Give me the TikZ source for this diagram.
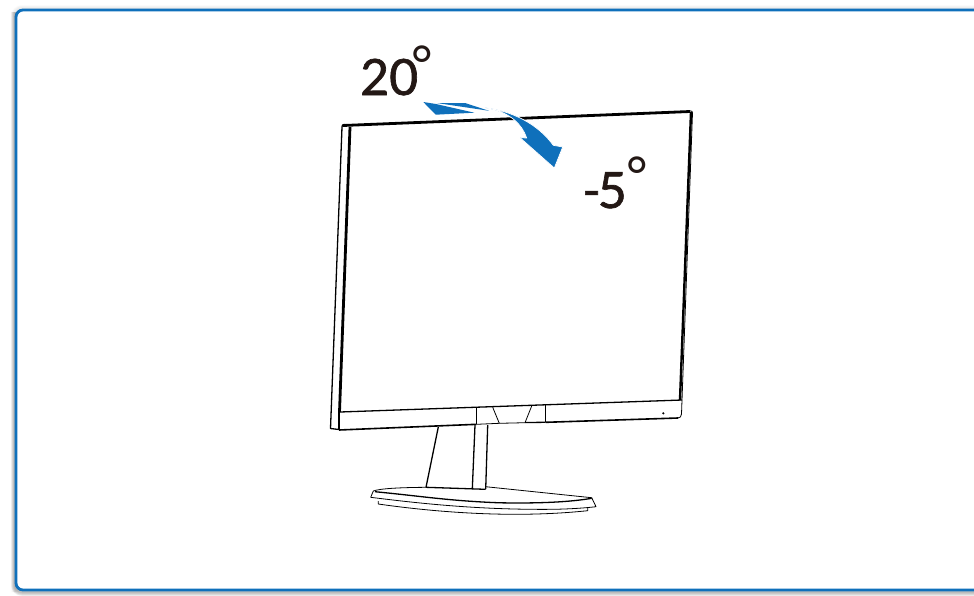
\documentclass[tikz,border=0pt]{standalone}
\usepackage{fontspec}
\setmainfont{Lato}
\newfontfamily\labelfont[RawFeature={embolden=1.3}]{Lato}
\definecolor{tiltblue}{HTML}{0F70BB}
\definecolor{framegray}{HTML}{707070}
\definecolor{inkbrown}{HTML}{231815}
\newcommand{\degmark}[2]{\hspace*{#1}\raisebox{#2}{\normalfont\fontsize{52}{52}\selectfont °}}
\tikzset{
  thickline/.style={draw=black, line width=2.8pt, line join=round},
  midline/.style={draw=black, line width=1.3pt, line join=round},
  thinline/.style={draw=black, line width=0.8pt, line join=round},
  anglelabel/.style={inner sep=0pt, text=inkbrown, font=\labelfont\fontsize{50}{50}\selectfont}
}
\begin{document}
\begin{tikzpicture}[x=1pt, y=-1pt]
\useasboundingbox (0,0) rectangle (974,595);
% Card
\foreach \w in {1,2,...,8} {
  \draw[framegray, opacity=0.08, line width=\w pt, rounded corners=7pt] (15,12) -- (15,592) -- (1000,592);
  \draw[framegray, opacity=0.025, line width=\w pt, rounded corners=7pt] (15,592) -- (15,9) -- (1000,9);
}
\draw[tiltblue, line width=2.8pt, rounded corners=7pt, fill=white] (1000,10) -- (16,10) -- (16,590) -- (1000,590);
% Stand
\draw[midline] (438.3,427) -- (426,487.3);
\draw[midline] (475,425) -- (472.3,489);
\draw[midline] (487.7,425) -- (485.7,489);
\draw[midline] (426,487.3) -- (485.7,489.3);
% Base
\draw[thinline] (426,487.3) .. controls (400,487.5) and (380,488.5) .. (373.3,491) -- (370.7,497.3)
  .. controls (420,503.5) and (480,510) .. (553,509.3) .. controls (570,509) and (585,508) .. (596,506.7)
  -- (591.7,497.7) -- (485.7,486.7);
\draw[midline] (375,491.7) .. controls (420,496) and (450,501) .. (500,502.8) .. controls (540,503.5) and (570,502) .. (591.7,498.3);
\draw[thinline] (378.3,501) -- (378.3,504) .. controls (420,510) and (470,514.5) .. (520,514.3)
  .. controls (550,514) and (570,512.5) .. (587.7,510.7) -- (587.7,507.3);
% Panel
\draw[thickline] (343,125.5) -- (690,111.5);
\draw[thickline] (350,127) -- (339.5,412);
\draw[thickline, line width=2.4pt] (691,112) -- (680,400);
\draw[midline] (349,125) -- (344,124.5) .. controls (342.5,124.5) and (342,125.5) .. (342,127) -- (330.5,428.5) -- (339,429.5);
\draw[midline] (339,412) -- (339,430);
\draw[thinline] (690,110.8) .. controls (692,110.8) and (692.5,111.5) .. (692.5,113) -- (682,400);
\draw[midline] (340,412) -- (682,400);
\draw[midline, line width=1.6pt] (339,430) -- (476.7,424.3);
\draw[thinline] (476.7,424.3) -- (499.3,423.3) -- (525,422.7);
\draw[midline] (525,422.5) -- (545.7,422.3);
\draw[midline, line width=1.6pt] (545.7,422.3) -- (678,418);
\draw[thinline] (682,400) -- (681.5,414) .. controls (681.3,416.5) and (680,418) .. (678,418);
\draw[thinline] (476.7,407.7) -- (476.7,424.3);
\draw[thinline] (545.7,405) -- (545.7,422.3);
\draw[thinline] (492.7,407.3) -- (499.3,423.3);
\draw[thinline] (531.7,406) -- (525,422.7);
\fill[black] (663.3,413.3) circle (1.2pt);
% Arrow
\fill[tiltblue] (423.3,102) -- (436,104) -- (474.3,112.7) -- (435.7,114.7) -- cycle;
\fill[tiltblue] (436.7,103) -- (465,103) -- (489,110.8) -- cycle;
\filldraw[fill=tiltblue, draw=white, line width=0.7pt] (485,107.7) .. controls (512,111) and (538,124) .. (553.3,145.3)
  -- (562.7,147) -- (554.3,168) -- (520,137.7) -- (526.7,138) .. controls (522,124) and (510,113) .. (490,108.7) -- cycle;
% Labels
\node[anglelabel, anchor=base west] (tilt_back) at (360,95) {20\degmark{-7pt}{12pt}};
\node[anglelabel, anchor=base west] (tilt_front) at (582,208) {-\hspace*{-3pt}5\degmark{0pt}{14pt}};
\end{tikzpicture}
\end{document}
